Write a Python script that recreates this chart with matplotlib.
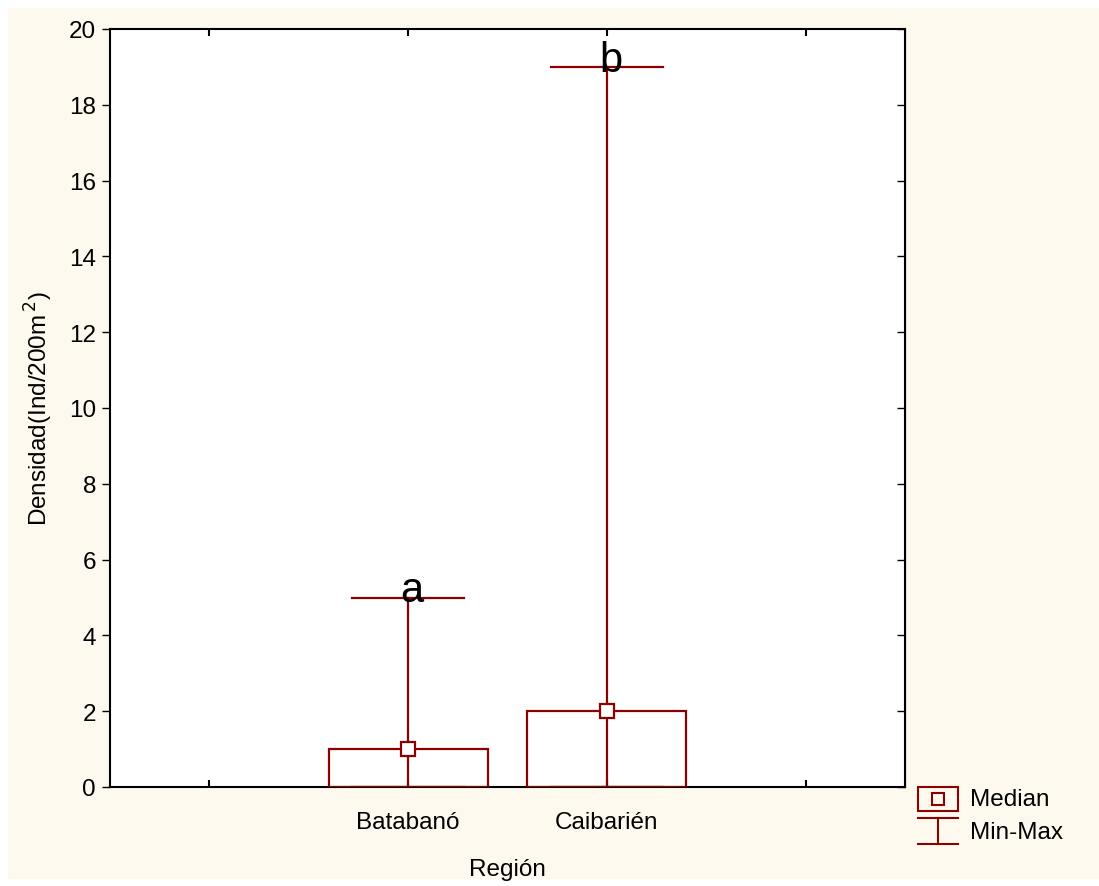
import matplotlib
matplotlib.use('Agg')
import matplotlib.pyplot as plt
from matplotlib.patches import Rectangle
from matplotlib.lines import Line2D

plt.rcParams['font.family'] = ['Liberation Sans', 'DejaVu Sans']

# Data
regions = ['Batabanó', 'Caibarién']
medians = [1, 2]
mins = [0, 0]
maxs = [5, 19]
letters = ['a', 'b']
y_ticks = [0, 2, 4, 6, 8, 10, 12, 14, 16, 18, 20]

RED = '#8b0000'
CREAM = '#fef9ee'
FS = 17.5

W, H = 1099, 887
fig = plt.figure(figsize=(W / 100, H / 100), dpi=100)
fig.patch.set_facecolor('white')
# cream panel behind everything
fig.add_artist(Rectangle((8 / W, 7 / H), 1 - 8 / W, 1 - 16 / H,
                         transform=fig.transFigure, facecolor=CREAM,
                         edgecolor='none', zorder=-10))

ax = fig.add_axes([110 / W, (H - 788) / H, 795 / W, 758 / H])
ax.set_facecolor('white')

xpos = [1, 2]
box_w = 0.8
cap_w = 0.565
for x, med, lo, hi, let in zip(xpos, medians, mins, maxs, letters):
    # box from 0 to median
    ax.add_patch(Rectangle((x - box_w / 2, 0), box_w, med, facecolor='none',
                           edgecolor=RED, lw=1.6, zorder=3))
    ax.plot([x, x], [lo, hi], color=RED, lw=1.6, zorder=3)
    ax.plot([x - cap_w / 2, x + cap_w / 2], [hi, hi], color=RED, lw=1.6, zorder=3)
    ax.plot([x - cap_w / 2, x + cap_w / 2], [lo, lo], color=RED, lw=1.6, zorder=3)
    ax.plot([x], [med], marker='s', ms=10, mfc='white', mec=RED, mew=1.6,
            zorder=5, clip_on=False)
    ax.text(x + 0.02, hi - 0.1, let, ha='center', va='baseline', fontsize=30, zorder=6)

ax.set_xlim(-0.5, 3.5)
ax.set_ylim(0, 20)
ax.set_xticks([0, 1, 2, 3])
ax.set_xticklabels(['', regions[0], regions[1], ''], fontsize=FS)
ax.set_yticks(y_ticks)
ax.set_yticklabels([str(v) for v in y_ticks], fontsize=FS)
ax.tick_params(axis='x', direction='in', length=5, width=1.5, pad=17,
               top=True)
ax.tick_params(axis='y', direction='out', length=6, width=1, pad=4, right=False)
for s in ax.spines.values():
    s.set_linewidth(1.5)

# right side ticks pointing inwards
ax2 = ax.secondary_yaxis('right')
ax2.set_yticks(y_ticks)
ax2.tick_params(direction='in', length=6, width=1, labelright=False)
ax2.set_yticklabels([])

ax.set_xlabel('Región', fontsize=FS, labelpad=18)
ax.set_ylabel('Densidad(Ind/200m$^{\\,2}$)', fontsize=FS, labelpad=10)

# legend drawn by hand outside the axes
def fx(px):
    return px / W

def fy(py):
    return 1 - py / H

fig.add_artist(Rectangle((fx(918), fy(812)), fx(40), 24 / H, transform=fig.transFigure,
                         facecolor='none', edgecolor=RED, lw=1.5))
fig.add_artist(Line2D([fx(938)], [fy(800)], transform=fig.transFigure, marker='s',
                      ms=8, mfc='none', mec=RED, mew=1.5))
fig.add_artist(Line2D([fx(918), fx(958)], [fy(819), fy(819)], transform=fig.transFigure,
                      color=RED, lw=1.5))
fig.add_artist(Line2D([fx(938), fx(938)], [fy(819), fy(845)], transform=fig.transFigure,
                      color=RED, lw=1.5))
fig.add_artist(Line2D([fx(918), fx(958)], [fy(845), fy(845)], transform=fig.transFigure,
                      color=RED, lw=1.5))
fig.text(fx(970), fy(800), 'Median', fontsize=FS, va='center')
fig.text(fx(970), fy(833), 'Min-Max', fontsize=FS, va='center')

fig.savefig('out.png', dpi=100, facecolor=fig.get_facecolor())
